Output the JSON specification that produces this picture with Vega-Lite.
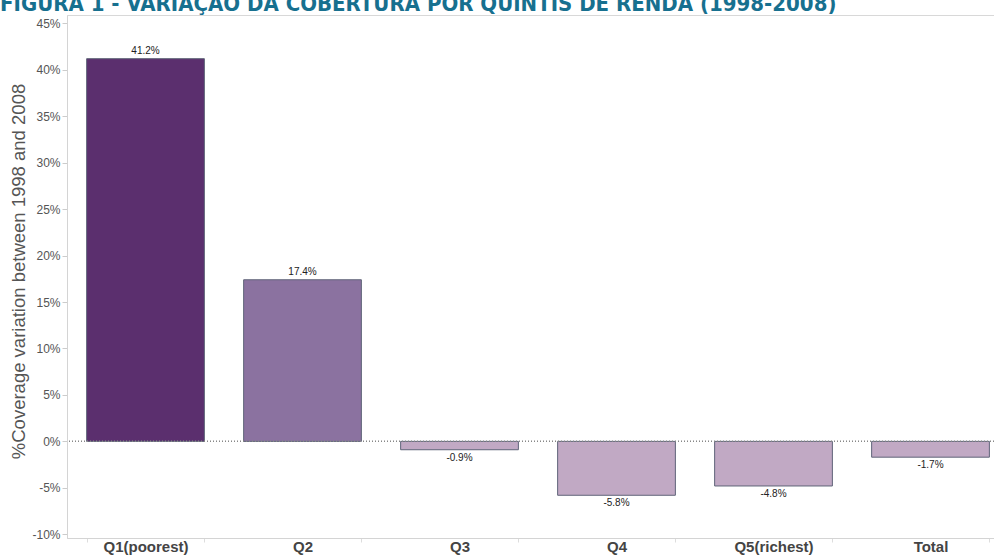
{
  "$schema": "https://vega.github.io/schema/vega-lite/v6.json",
  "width": 942,
  "height": 523,
  "autosize": {"type": "none"},
  "padding": {"left": 67, "top": 15, "right": 0, "bottom": 19},
  "background": "white",
  "title": {
    "text": "FIGURA 1 - VARIAÇÃO DA COBERTURA POR QUINTIS DE RENDA (1998-2008)",
    "anchor": "start",
    "frame": "group",
    "dx": -67,
    "offset": -1,
    "font": "Liberation Sans Narrow, DejaVu Sans Condensed, Roboto",
    "fontSize": 22,
    "fontWeight": "bold",
    "color": "#17708f"
  },
  "config": {
    "view": {"stroke": "#d8d8d8"},
    "font": "Liberation Sans, Arial, sans-serif"
  },
  "data": {
    "values": [
      {"quintile": "Q1(poorest)", "value": 0.412},
      {"quintile": "Q2", "value": 0.174},
      {"quintile": "Q3", "value": -0.009},
      {"quintile": "Q4", "value": -0.058},
      {"quintile": "Q5(richest)", "value": -0.048},
      {"quintile": "Total", "value": -0.017}
    ]
  },
  "encoding": {
    "x": {
      "field": "quintile",
      "type": "nominal",
      "sort": null,
      "scale": {"paddingInner": 0.25, "paddingOuter": 0.125},
      "axis": {
        "title": null,
        "labelAngle": 0,
        "labelFontSize": 15,
        "labelFontWeight": "bold",
        "labelColor": "#444444",
        "labelPadding": -3,
        "labelBaseline": "top",
        "tickBand": "extent",
        "tickSize": 4,
        "tickColor": "#dddddd",
        "domainColor": "#d4d4d4",
        "grid": false
      }
    },
    "y": {
      "field": "value",
      "type": "quantitative",
      "scale": {"domain": [-0.104, 0.459], "nice": false, "zero": false},
      "axis": {
        "title": "%Coverage variation between 1998 and 2008",
        "titleFontSize": 18.5,
        "titleFontWeight": "normal",
        "titleColor": "#555555",
        "titlePadding": 3,
        "titleY": 256,
        "format": ".0%",
        "labelExpr": "replace(datum.label, '\u2212', '-')",
        "values": [-0.1, -0.05, 0, 0.05, 0.1, 0.15, 0.2, 0.25, 0.3, 0.35, 0.4, 0.45],
        "labelFontSize": 12,
        "labelColor": "#555555",
        "tickColor": "#cccccc",
        "tickSize": 5,
        "domainColor": "#d4d4d4",
        "grid": false
      }
    }
  },
  "layer": [
    {
      "mark": {"type": "bar", "stroke": "#5f6478", "strokeWidth": 1},
      "encoding": {
        "color": {
          "field": "quintile",
          "type": "nominal",
          "legend": null,
          "scale": {
            "domain": ["Q1(poorest)", "Q2", "Q3", "Q4", "Q5(richest)", "Total"],
            "range": ["#5b2f6e", "#8b72a0", "#c1a9c4", "#c1a9c4", "#c1a9c4", "#c1a9c4"]
          }
        }
      }
    },
    {
      "mark": {"type": "rule", "color": "#888888", "strokeDash": [1, 2], "strokeWidth": 1},
      "encoding": {"y": {"datum": 0}, "x": {}}
    },
    {
      "transform": [{"filter": "datum.value >= 0"}],
      "mark": {"type": "text", "baseline": "bottom", "dy": -3, "fontSize": 10, "color": "#222222",
               "text": {"expr": "replace(format(datum.value, '.1%'), '\u2212', '-')"}},
      "encoding": {}
    },
    {
      "transform": [{"filter": "datum.value < 0"}],
      "mark": {"type": "text", "baseline": "top", "dy": 3, "fontSize": 10, "color": "#222222",
               "text": {"expr": "replace(format(datum.value, '.1%'), '\u2212', '-')"}},
      "encoding": {}
    }
  ]
}
